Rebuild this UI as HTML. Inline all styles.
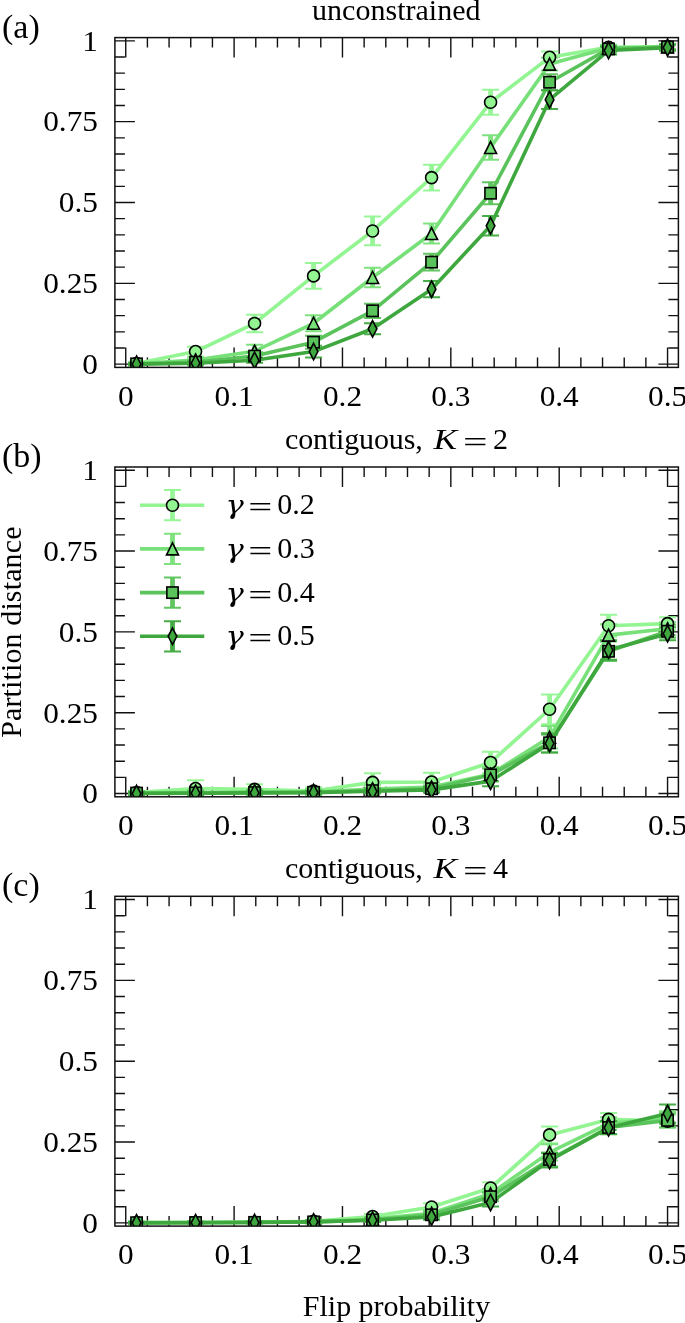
<!DOCTYPE html>
<html lang="en"><head><meta charset="utf-8"><title>Partition distance vs flip probability</title>
<style>
html,body{margin:0;padding:0;background:#fff;}
body{width:685px;height:1323px;overflow:hidden;position:relative;}
svg text{font-family:"Liberation Serif",serif;fill:#000;}
</style></head><body>
<svg width="685" height="1323" viewBox="0 0 685 1323" style="position:absolute;left:0;top:0;display:block">
<rect width="685" height="1323" fill="#fff"/>
<g id="panel0">
<path d="M125.74 367.40v-20M125.74 37.60v20M147.41 367.40v-10M147.41 37.60v10M169.08 367.40v-10M169.08 37.60v10M190.76 367.40v-10M190.76 37.60v10M212.43 367.40v-10M212.43 37.60v10M234.10 367.40v-20M234.10 37.60v20M255.78 367.40v-10M255.78 37.60v10M277.45 367.40v-10M277.45 37.60v10M299.12 367.40v-10M299.12 37.60v10M320.79 367.40v-10M320.79 37.60v10M342.47 367.40v-20M342.47 37.60v20M364.14 367.40v-10M364.14 37.60v10M385.81 367.40v-10M385.81 37.60v10M407.49 367.40v-10M407.49 37.60v10M429.16 367.40v-10M429.16 37.60v10M450.83 367.40v-20M450.83 37.60v20M472.51 367.40v-10M472.51 37.60v10M494.18 367.40v-10M494.18 37.60v10M515.85 367.40v-10M515.85 37.60v10M537.52 367.40v-10M537.52 37.60v10M559.20 367.40v-20M559.20 37.60v20M580.87 367.40v-10M580.87 37.60v10M602.54 367.40v-10M602.54 37.60v10M624.22 367.40v-10M624.22 37.60v10M645.89 367.40v-10M645.89 37.60v10M667.56 367.40v-20M667.56 37.60v20M114.90 364.17h20M678.40 364.17h-20M114.90 348.00h10M678.40 348.00h-10M114.90 331.83h10M678.40 331.83h-10M114.90 315.67h10M678.40 315.67h-10M114.90 299.50h10M678.40 299.50h-10M114.90 283.33h20M678.40 283.33h-20M114.90 267.17h10M678.40 267.17h-10M114.90 251.00h10M678.40 251.00h-10M114.90 234.83h10M678.40 234.83h-10M114.90 218.67h10M678.40 218.67h-10M114.90 202.50h20M678.40 202.50h-20M114.90 186.33h10M678.40 186.33h-10M114.90 170.17h10M678.40 170.17h-10M114.90 154.00h10M678.40 154.00h-10M114.90 137.83h10M678.40 137.83h-10M114.90 121.67h20M678.40 121.67h-20M114.90 105.50h10M678.40 105.50h-10M114.90 89.33h10M678.40 89.33h-10M114.90 73.17h10M678.40 73.17h-10M114.90 57.00h10M678.40 57.00h-10M114.90 40.83h20M678.40 40.83h-20" stroke="#111" stroke-width="1.4" fill="none"/>
<clipPath id="cp0"><rect x="114.9" y="37.6" width="563.5" height="329.8"/></clipPath>
<g clip-path="url(#cp0)">
<polyline points="136.57,363.52 195.57,351.56 254.57,323.43 313.57,275.90 372.57,230.95 431.57,177.60 490.57,102.27 549.57,57.32 608.56,47.30 667.56,46.65" fill="none" stroke="#92F592" stroke-width="3.6" stroke-linejoin="round"/>
<path d="M136.57 361.90V365.14" stroke="#92F592" stroke-width="4.8" fill="none" opacity="0.95"/><path d="M128.07 361.90h17.0M128.07 365.14h17.0" stroke="#92F592" stroke-width="2.0" fill="none" opacity="0.95"/>
<path d="M195.57 346.71V356.41" stroke="#92F592" stroke-width="4.8" fill="none" opacity="0.95"/><path d="M187.07 346.71h17.0M187.07 356.41h17.0" stroke="#92F592" stroke-width="2.0" fill="none" opacity="0.95"/>
<path d="M254.57 314.70V332.16" stroke="#92F592" stroke-width="4.8" fill="none" opacity="0.95"/><path d="M246.07 314.70h17.0M246.07 332.16h17.0" stroke="#92F592" stroke-width="2.0" fill="none" opacity="0.95"/>
<path d="M313.57 262.96V288.83" stroke="#92F592" stroke-width="4.8" fill="none" opacity="0.95"/><path d="M305.07 262.96h17.0M305.07 288.83h17.0" stroke="#92F592" stroke-width="2.0" fill="none" opacity="0.95"/>
<path d="M372.57 216.57V245.34" stroke="#92F592" stroke-width="4.8" fill="none" opacity="0.95"/><path d="M364.07 216.57h17.0M364.07 245.34h17.0" stroke="#92F592" stroke-width="2.0" fill="none" opacity="0.95"/>
<path d="M431.57 164.67V190.54" stroke="#92F592" stroke-width="4.8" fill="none" opacity="0.95"/><path d="M423.07 164.67h17.0M423.07 190.54h17.0" stroke="#92F592" stroke-width="2.0" fill="none" opacity="0.95"/>
<path d="M490.57 89.79V114.75" stroke="#92F592" stroke-width="4.8" fill="none" opacity="0.95"/><path d="M482.07 89.79h17.0M482.07 114.75h17.0" stroke="#92F592" stroke-width="2.0" fill="none" opacity="0.95"/>
<path d="M549.57 51.50V63.14" stroke="#92F592" stroke-width="4.8" fill="none" opacity="0.95"/><path d="M541.07 51.50h17.0M541.07 63.14h17.0" stroke="#92F592" stroke-width="2.0" fill="none" opacity="0.95"/>
<path d="M608.56 44.71V49.89" stroke="#92F592" stroke-width="4.8" fill="none" opacity="0.95"/><path d="M600.06 44.71h17.0M600.06 49.89h17.0" stroke="#92F592" stroke-width="2.0" fill="none" opacity="0.95"/>
<path d="M667.56 44.07V49.24" stroke="#92F592" stroke-width="4.8" fill="none" opacity="0.95"/><path d="M659.06 44.07h17.0M659.06 49.24h17.0" stroke="#92F592" stroke-width="2.0" fill="none" opacity="0.95"/>
<polyline points="136.57,363.84 195.57,359.96 254.57,351.23 313.57,323.26 372.57,277.51 431.57,233.54 490.57,147.53 549.57,64.11 608.56,47.95 667.56,46.98" fill="none" stroke="#78E078" stroke-width="3.6" stroke-linejoin="round"/>
<path d="M136.57 362.55V365.14" stroke="#78E078" stroke-width="4.8" fill="none" opacity="0.95"/><path d="M128.07 362.55h17.0M128.07 365.14h17.0" stroke="#78E078" stroke-width="2.0" fill="none" opacity="0.95"/>
<path d="M195.57 357.38V362.55" stroke="#78E078" stroke-width="4.8" fill="none" opacity="0.95"/><path d="M187.07 357.38h17.0M187.07 362.55h17.0" stroke="#78E078" stroke-width="2.0" fill="none" opacity="0.95"/>
<path d="M254.57 344.77V357.70" stroke="#78E078" stroke-width="4.8" fill="none" opacity="0.95"/><path d="M246.07 344.77h17.0M246.07 357.70h17.0" stroke="#78E078" stroke-width="2.0" fill="none" opacity="0.95"/>
<path d="M313.57 315.18V331.35" stroke="#78E078" stroke-width="4.8" fill="none" opacity="0.95"/><path d="M305.07 315.18h17.0M305.07 331.35h17.0" stroke="#78E078" stroke-width="2.0" fill="none" opacity="0.95"/>
<path d="M372.57 267.81V287.21" stroke="#78E078" stroke-width="4.8" fill="none" opacity="0.95"/><path d="M364.07 267.81h17.0M364.07 287.21h17.0" stroke="#78E078" stroke-width="2.0" fill="none" opacity="0.95"/>
<path d="M431.57 223.52V243.56" stroke="#78E078" stroke-width="4.8" fill="none" opacity="0.95"/><path d="M423.07 223.52h17.0M423.07 243.56h17.0" stroke="#78E078" stroke-width="2.0" fill="none" opacity="0.95"/>
<path d="M490.57 135.25V159.82" stroke="#78E078" stroke-width="4.8" fill="none" opacity="0.95"/><path d="M482.07 135.25h17.0M482.07 159.82h17.0" stroke="#78E078" stroke-width="2.0" fill="none" opacity="0.95"/>
<path d="M549.57 57.65V70.58" stroke="#78E078" stroke-width="4.8" fill="none" opacity="0.95"/><path d="M541.07 57.65h17.0M541.07 70.58h17.0" stroke="#78E078" stroke-width="2.0" fill="none" opacity="0.95"/>
<path d="M608.56 45.36V50.53" stroke="#78E078" stroke-width="4.8" fill="none" opacity="0.95"/><path d="M600.06 45.36h17.0M600.06 50.53h17.0" stroke="#78E078" stroke-width="2.0" fill="none" opacity="0.95"/>
<path d="M667.56 44.39V49.56" stroke="#78E078" stroke-width="4.8" fill="none" opacity="0.95"/><path d="M659.06 44.39h17.0M659.06 49.56h17.0" stroke="#78E078" stroke-width="2.0" fill="none" opacity="0.95"/>
<polyline points="136.57,363.84 195.57,362.23 254.57,356.08 313.57,342.18 372.57,310.82 431.57,262.12 490.57,193.25 549.57,82.22 608.56,48.92 667.56,46.98" fill="none" stroke="#5BC35B" stroke-width="3.6" stroke-linejoin="round"/>
<path d="M136.57 362.87V364.81" stroke="#5BC35B" stroke-width="4.8" fill="none" opacity="0.95"/><path d="M128.07 362.87h17.0M128.07 364.81h17.0" stroke="#5BC35B" stroke-width="2.0" fill="none" opacity="0.95"/>
<path d="M195.57 360.29V364.17" stroke="#5BC35B" stroke-width="4.8" fill="none" opacity="0.95"/><path d="M187.07 360.29h17.0M187.07 364.17h17.0" stroke="#5BC35B" stroke-width="2.0" fill="none" opacity="0.95"/>
<path d="M254.57 352.20V359.96" stroke="#5BC35B" stroke-width="4.8" fill="none" opacity="0.95"/><path d="M246.07 352.20h17.0M246.07 359.96h17.0" stroke="#5BC35B" stroke-width="2.0" fill="none" opacity="0.95"/>
<path d="M313.57 335.71V348.65" stroke="#5BC35B" stroke-width="4.8" fill="none" opacity="0.95"/><path d="M305.07 335.71h17.0M305.07 348.65h17.0" stroke="#5BC35B" stroke-width="2.0" fill="none" opacity="0.95"/>
<path d="M372.57 303.70V317.93" stroke="#5BC35B" stroke-width="4.8" fill="none" opacity="0.95"/><path d="M364.07 303.70h17.0M364.07 317.93h17.0" stroke="#5BC35B" stroke-width="2.0" fill="none" opacity="0.95"/>
<path d="M431.57 253.72V270.53" stroke="#5BC35B" stroke-width="4.8" fill="none" opacity="0.95"/><path d="M423.07 253.72h17.0M423.07 270.53h17.0" stroke="#5BC35B" stroke-width="2.0" fill="none" opacity="0.95"/>
<path d="M490.57 182.26V204.25" stroke="#5BC35B" stroke-width="4.8" fill="none" opacity="0.95"/><path d="M482.07 182.26h17.0M482.07 204.25h17.0" stroke="#5BC35B" stroke-width="2.0" fill="none" opacity="0.95"/>
<path d="M549.57 74.14V90.30" stroke="#5BC35B" stroke-width="4.8" fill="none" opacity="0.95"/><path d="M541.07 74.14h17.0M541.07 90.30h17.0" stroke="#5BC35B" stroke-width="2.0" fill="none" opacity="0.95"/>
<path d="M608.56 45.68V52.15" stroke="#5BC35B" stroke-width="4.8" fill="none" opacity="0.95"/><path d="M600.06 45.68h17.0M600.06 52.15h17.0" stroke="#5BC35B" stroke-width="2.0" fill="none" opacity="0.95"/>
<path d="M667.56 44.39V49.56" stroke="#5BC35B" stroke-width="4.8" fill="none" opacity="0.95"/><path d="M659.06 44.39h17.0M659.06 49.56h17.0" stroke="#5BC35B" stroke-width="2.0" fill="none" opacity="0.95"/>
<polyline points="136.57,364.17 195.57,363.20 254.57,360.29 313.57,351.56 372.57,328.79 431.57,289.15 490.57,225.78 549.57,99.68 608.56,50.53 667.56,47.62" fill="none" stroke="#3EA83E" stroke-width="3.6" stroke-linejoin="round"/>
<path d="M136.57 363.20V365.14" stroke="#3EA83E" stroke-width="4.8" fill="none" opacity="0.95"/><path d="M128.07 363.20h17.0M128.07 365.14h17.0" stroke="#3EA83E" stroke-width="2.0" fill="none" opacity="0.95"/>
<path d="M195.57 361.58V364.81" stroke="#3EA83E" stroke-width="4.8" fill="none" opacity="0.95"/><path d="M187.07 361.58h17.0M187.07 364.81h17.0" stroke="#3EA83E" stroke-width="2.0" fill="none" opacity="0.95"/>
<path d="M254.57 357.70V362.87" stroke="#3EA83E" stroke-width="4.8" fill="none" opacity="0.95"/><path d="M246.07 357.70h17.0M246.07 362.87h17.0" stroke="#3EA83E" stroke-width="2.0" fill="none" opacity="0.95"/>
<path d="M313.57 345.74V357.38" stroke="#3EA83E" stroke-width="4.8" fill="none" opacity="0.95"/><path d="M305.07 345.74h17.0M305.07 357.38h17.0" stroke="#3EA83E" stroke-width="2.0" fill="none" opacity="0.95"/>
<path d="M372.57 323.30V334.29" stroke="#3EA83E" stroke-width="4.8" fill="none" opacity="0.95"/><path d="M364.07 323.30h17.0M364.07 334.29h17.0" stroke="#3EA83E" stroke-width="2.0" fill="none" opacity="0.95"/>
<path d="M431.57 281.07V297.24" stroke="#3EA83E" stroke-width="4.8" fill="none" opacity="0.95"/><path d="M423.07 281.07h17.0M423.07 297.24h17.0" stroke="#3EA83E" stroke-width="2.0" fill="none" opacity="0.95"/>
<path d="M490.57 216.08V235.48" stroke="#3EA83E" stroke-width="4.8" fill="none" opacity="0.95"/><path d="M482.07 216.08h17.0M482.07 235.48h17.0" stroke="#3EA83E" stroke-width="2.0" fill="none" opacity="0.95"/>
<path d="M549.57 90.30V109.06" stroke="#3EA83E" stroke-width="4.8" fill="none" opacity="0.95"/><path d="M541.07 90.30h17.0M541.07 109.06h17.0" stroke="#3EA83E" stroke-width="2.0" fill="none" opacity="0.95"/>
<path d="M608.56 46.65V54.41" stroke="#3EA83E" stroke-width="4.8" fill="none" opacity="0.95"/><path d="M600.06 46.65h17.0M600.06 54.41h17.0" stroke="#3EA83E" stroke-width="2.0" fill="none" opacity="0.95"/>
<path d="M667.56 44.39V50.86" stroke="#3EA83E" stroke-width="4.8" fill="none" opacity="0.95"/><path d="M659.06 44.39h17.0M659.06 50.86h17.0" stroke="#3EA83E" stroke-width="2.0" fill="none" opacity="0.95"/>
<circle cx="136.57" cy="363.52" r="6.00" fill="#92F592" stroke="#000" stroke-width="1.6" stroke-linejoin="miter"/>
<circle cx="195.57" cy="351.56" r="6.00" fill="#92F592" stroke="#000" stroke-width="1.6" stroke-linejoin="miter"/>
<circle cx="254.57" cy="323.43" r="6.00" fill="#92F592" stroke="#000" stroke-width="1.6" stroke-linejoin="miter"/>
<circle cx="313.57" cy="275.90" r="6.00" fill="#92F592" stroke="#000" stroke-width="1.6" stroke-linejoin="miter"/>
<circle cx="372.57" cy="230.95" r="6.00" fill="#92F592" stroke="#000" stroke-width="1.6" stroke-linejoin="miter"/>
<circle cx="431.57" cy="177.60" r="6.00" fill="#92F592" stroke="#000" stroke-width="1.6" stroke-linejoin="miter"/>
<circle cx="490.57" cy="102.27" r="6.00" fill="#92F592" stroke="#000" stroke-width="1.6" stroke-linejoin="miter"/>
<circle cx="549.57" cy="57.32" r="6.00" fill="#92F592" stroke="#000" stroke-width="1.6" stroke-linejoin="miter"/>
<circle cx="608.56" cy="47.30" r="6.00" fill="#92F592" stroke="#000" stroke-width="1.6" stroke-linejoin="miter"/>
<circle cx="667.56" cy="46.65" r="6.00" fill="#92F592" stroke="#000" stroke-width="1.6" stroke-linejoin="miter"/>
<path d="M136.57 357.84L142.57 369.84L130.57 369.84Z" fill="#78E078" stroke="#000" stroke-width="1.6" stroke-linejoin="miter"/>
<path d="M195.57 353.96L201.57 365.96L189.57 365.96Z" fill="#78E078" stroke="#000" stroke-width="1.6" stroke-linejoin="miter"/>
<path d="M254.57 345.23L260.57 357.23L248.57 357.23Z" fill="#78E078" stroke="#000" stroke-width="1.6" stroke-linejoin="miter"/>
<path d="M313.57 317.26L319.57 329.26L307.57 329.26Z" fill="#78E078" stroke="#000" stroke-width="1.6" stroke-linejoin="miter"/>
<path d="M372.57 271.51L378.57 283.51L366.57 283.51Z" fill="#78E078" stroke="#000" stroke-width="1.6" stroke-linejoin="miter"/>
<path d="M431.57 227.54L437.57 239.54L425.57 239.54Z" fill="#78E078" stroke="#000" stroke-width="1.6" stroke-linejoin="miter"/>
<path d="M490.57 141.53L496.57 153.53L484.57 153.53Z" fill="#78E078" stroke="#000" stroke-width="1.6" stroke-linejoin="miter"/>
<path d="M549.57 58.11L555.57 70.11L543.57 70.11Z" fill="#78E078" stroke="#000" stroke-width="1.6" stroke-linejoin="miter"/>
<path d="M608.56 41.95L614.56 53.95L602.56 53.95Z" fill="#78E078" stroke="#000" stroke-width="1.6" stroke-linejoin="miter"/>
<path d="M667.56 40.98L673.56 52.98L661.56 52.98Z" fill="#78E078" stroke="#000" stroke-width="1.6" stroke-linejoin="miter"/>
<rect x="130.93" y="358.20" width="11.28" height="11.28" fill="#5BC35B" stroke="#000" stroke-width="1.6" stroke-linejoin="miter"/>
<rect x="189.93" y="356.59" width="11.28" height="11.28" fill="#5BC35B" stroke="#000" stroke-width="1.6" stroke-linejoin="miter"/>
<rect x="248.93" y="350.44" width="11.28" height="11.28" fill="#5BC35B" stroke="#000" stroke-width="1.6" stroke-linejoin="miter"/>
<rect x="307.93" y="336.54" width="11.28" height="11.28" fill="#5BC35B" stroke="#000" stroke-width="1.6" stroke-linejoin="miter"/>
<rect x="366.93" y="305.18" width="11.28" height="11.28" fill="#5BC35B" stroke="#000" stroke-width="1.6" stroke-linejoin="miter"/>
<rect x="425.93" y="256.48" width="11.28" height="11.28" fill="#5BC35B" stroke="#000" stroke-width="1.6" stroke-linejoin="miter"/>
<rect x="484.93" y="187.61" width="11.28" height="11.28" fill="#5BC35B" stroke="#000" stroke-width="1.6" stroke-linejoin="miter"/>
<rect x="543.93" y="76.58" width="11.28" height="11.28" fill="#5BC35B" stroke="#000" stroke-width="1.6" stroke-linejoin="miter"/>
<rect x="602.92" y="43.28" width="11.28" height="11.28" fill="#5BC35B" stroke="#000" stroke-width="1.6" stroke-linejoin="miter"/>
<rect x="661.92" y="41.34" width="11.28" height="11.28" fill="#5BC35B" stroke="#000" stroke-width="1.6" stroke-linejoin="miter"/>
<path d="M136.57 355.89L140.89 364.17L136.57 372.45L132.25 364.17Z" fill="#3EA83E" stroke="#000" stroke-width="1.6" stroke-linejoin="miter"/>
<path d="M195.57 354.92L199.89 363.20L195.57 371.48L191.25 363.20Z" fill="#3EA83E" stroke="#000" stroke-width="1.6" stroke-linejoin="miter"/>
<path d="M254.57 352.01L258.89 360.29L254.57 368.57L250.25 360.29Z" fill="#3EA83E" stroke="#000" stroke-width="1.6" stroke-linejoin="miter"/>
<path d="M313.57 343.28L317.89 351.56L313.57 359.84L309.25 351.56Z" fill="#3EA83E" stroke="#000" stroke-width="1.6" stroke-linejoin="miter"/>
<path d="M372.57 320.51L376.89 328.79L372.57 337.07L368.25 328.79Z" fill="#3EA83E" stroke="#000" stroke-width="1.6" stroke-linejoin="miter"/>
<path d="M431.57 280.87L435.89 289.15L431.57 297.43L427.25 289.15Z" fill="#3EA83E" stroke="#000" stroke-width="1.6" stroke-linejoin="miter"/>
<path d="M490.57 217.50L494.89 225.78L490.57 234.06L486.25 225.78Z" fill="#3EA83E" stroke="#000" stroke-width="1.6" stroke-linejoin="miter"/>
<path d="M549.57 91.40L553.89 99.68L549.57 107.96L545.25 99.68Z" fill="#3EA83E" stroke="#000" stroke-width="1.6" stroke-linejoin="miter"/>
<path d="M608.56 42.25L612.88 50.53L608.56 58.81L604.24 50.53Z" fill="#3EA83E" stroke="#000" stroke-width="1.6" stroke-linejoin="miter"/>
<path d="M667.56 39.34L671.88 47.62L667.56 55.90L663.24 47.62Z" fill="#3EA83E" stroke="#000" stroke-width="1.6" stroke-linejoin="miter"/>
</g>
<rect x="114.9" y="37.6" width="563.50" height="329.8" fill="none" stroke="#111" stroke-width="1.5"/>
<text transform="translate(125.74 405.60) scale(1.08 1)" font-size="29.0" text-anchor="middle">0</text>
<text transform="translate(234.10 405.60) scale(1.08 1)" font-size="29.0" text-anchor="middle">0.1</text>
<text transform="translate(342.47 405.60) scale(1.08 1)" font-size="29.0" text-anchor="middle">0.2</text>
<text transform="translate(450.83 405.60) scale(1.08 1)" font-size="29.0" text-anchor="middle">0.3</text>
<text transform="translate(559.20 405.60) scale(1.08 1)" font-size="29.0" text-anchor="middle">0.4</text>
<text transform="translate(667.56 405.60) scale(1.08 1)" font-size="29.0" text-anchor="middle">0.5</text>
<text transform="translate(98.00 373.97) scale(1.08 1)" font-size="29.0" text-anchor="end">0</text>
<text transform="translate(98.00 293.13) scale(1.08 1)" font-size="29.0" text-anchor="end">0.25</text>
<text transform="translate(98.00 212.30) scale(1.08 1)" font-size="29.0" text-anchor="end">0.5</text>
<text transform="translate(98.00 131.47) scale(1.08 1)" font-size="29.0" text-anchor="end">0.75</text>
<text transform="translate(98.00 50.63) scale(1.08 1)" font-size="29.0" text-anchor="end">1</text>
<text x="2.00" y="37.60" font-size="34">(a)</text>
<text x="312.00" y="20.40" font-size="30.0" textLength="168.6" lengthAdjust="spacing">unconstrained</text>
</g>
<g id="panel1">
<path d="M125.74 796.80v-20M125.74 467.00v20M147.41 796.80v-10M147.41 467.00v10M169.08 796.80v-10M169.08 467.00v10M190.76 796.80v-10M190.76 467.00v10M212.43 796.80v-10M212.43 467.00v10M234.10 796.80v-20M234.10 467.00v20M255.78 796.80v-10M255.78 467.00v10M277.45 796.80v-10M277.45 467.00v10M299.12 796.80v-10M299.12 467.00v10M320.79 796.80v-10M320.79 467.00v10M342.47 796.80v-20M342.47 467.00v20M364.14 796.80v-10M364.14 467.00v10M385.81 796.80v-10M385.81 467.00v10M407.49 796.80v-10M407.49 467.00v10M429.16 796.80v-10M429.16 467.00v10M450.83 796.80v-20M450.83 467.00v20M472.51 796.80v-10M472.51 467.00v10M494.18 796.80v-10M494.18 467.00v10M515.85 796.80v-10M515.85 467.00v10M537.52 796.80v-10M537.52 467.00v10M559.20 796.80v-20M559.20 467.00v20M580.87 796.80v-10M580.87 467.00v10M602.54 796.80v-10M602.54 467.00v10M624.22 796.80v-10M624.22 467.00v10M645.89 796.80v-10M645.89 467.00v10M667.56 796.80v-20M667.56 467.00v20M114.90 793.57h20M678.40 793.57h-20M114.90 777.40h10M678.40 777.40h-10M114.90 761.23h10M678.40 761.23h-10M114.90 745.07h10M678.40 745.07h-10M114.90 728.90h10M678.40 728.90h-10M114.90 712.73h20M678.40 712.73h-20M114.90 696.57h10M678.40 696.57h-10M114.90 680.40h10M678.40 680.40h-10M114.90 664.23h10M678.40 664.23h-10M114.90 648.07h10M678.40 648.07h-10M114.90 631.90h20M678.40 631.90h-20M114.90 615.73h10M678.40 615.73h-10M114.90 599.57h10M678.40 599.57h-10M114.90 583.40h10M678.40 583.40h-10M114.90 567.23h10M678.40 567.23h-10M114.90 551.07h20M678.40 551.07h-20M114.90 534.90h10M678.40 534.90h-10M114.90 518.73h10M678.40 518.73h-10M114.90 502.57h10M678.40 502.57h-10M114.90 486.40h10M678.40 486.40h-10M114.90 470.23h20M678.40 470.23h-20" stroke="#111" stroke-width="1.4" fill="none"/>
<clipPath id="cp1"><rect x="114.9" y="467.0" width="563.5" height="329.8"/></clipPath>
<g clip-path="url(#cp1)">
<polyline points="136.57,792.60 195.57,788.56 254.57,789.36 313.57,790.98 372.57,782.38 431.57,781.93 490.57,762.43 549.57,709.27 608.56,625.76 667.56,623.65" fill="none" stroke="#92F592" stroke-width="3.6" stroke-linejoin="round"/>
<path d="M136.57 790.66V794.54" stroke="#92F592" stroke-width="4.8" fill="none" opacity="0.95"/><path d="M128.07 790.66h17.0M128.07 794.54h17.0" stroke="#92F592" stroke-width="2.0" fill="none" opacity="0.95"/>
<path d="M195.57 780.15V796.96" stroke="#92F592" stroke-width="4.8" fill="none" opacity="0.95"/><path d="M187.07 780.15h17.0M187.07 796.96h17.0" stroke="#92F592" stroke-width="2.0" fill="none" opacity="0.95"/>
<path d="M254.57 784.19V794.54" stroke="#92F592" stroke-width="4.8" fill="none" opacity="0.95"/><path d="M246.07 784.19h17.0M246.07 794.54h17.0" stroke="#92F592" stroke-width="2.0" fill="none" opacity="0.95"/>
<path d="M313.57 787.75V794.21" stroke="#92F592" stroke-width="4.8" fill="none" opacity="0.95"/><path d="M305.07 787.75h17.0M305.07 794.21h17.0" stroke="#92F592" stroke-width="2.0" fill="none" opacity="0.95"/>
<path d="M372.57 773.33V791.43" stroke="#92F592" stroke-width="4.8" fill="none" opacity="0.95"/><path d="M364.07 773.33h17.0M364.07 791.43h17.0" stroke="#92F592" stroke-width="2.0" fill="none" opacity="0.95"/>
<path d="M431.57 772.87V790.98" stroke="#92F592" stroke-width="4.8" fill="none" opacity="0.95"/><path d="M423.07 772.87h17.0M423.07 790.98h17.0" stroke="#92F592" stroke-width="2.0" fill="none" opacity="0.95"/>
<path d="M490.57 751.76V773.10" stroke="#92F592" stroke-width="4.8" fill="none" opacity="0.95"/><path d="M482.07 751.76h17.0M482.07 773.10h17.0" stroke="#92F592" stroke-width="2.0" fill="none" opacity="0.95"/>
<path d="M549.57 694.40V724.15" stroke="#92F592" stroke-width="4.8" fill="none" opacity="0.95"/><path d="M541.07 694.40h17.0M541.07 724.15h17.0" stroke="#92F592" stroke-width="2.0" fill="none" opacity="0.95"/>
<path d="M608.56 614.76V636.75" stroke="#92F592" stroke-width="4.8" fill="none" opacity="0.95"/><path d="M600.06 614.76h17.0M600.06 636.75h17.0" stroke="#92F592" stroke-width="2.0" fill="none" opacity="0.95"/>
<path d="M667.56 617.19V630.12" stroke="#92F592" stroke-width="4.8" fill="none" opacity="0.95"/><path d="M659.06 617.19h17.0M659.06 630.12h17.0" stroke="#92F592" stroke-width="2.0" fill="none" opacity="0.95"/>
<polyline points="136.57,792.92 195.57,792.60 254.57,792.27 313.57,791.95 372.57,789.04 431.57,787.10 490.57,774.17 549.57,737.31 608.56,635.13 667.56,628.67" fill="none" stroke="#78E078" stroke-width="3.6" stroke-linejoin="round"/>
<path d="M136.57 791.30V794.54" stroke="#78E078" stroke-width="4.8" fill="none" opacity="0.95"/><path d="M128.07 791.30h17.0M128.07 794.54h17.0" stroke="#78E078" stroke-width="2.0" fill="none" opacity="0.95"/>
<path d="M195.57 790.01V795.18" stroke="#78E078" stroke-width="4.8" fill="none" opacity="0.95"/><path d="M187.07 790.01h17.0M187.07 795.18h17.0" stroke="#78E078" stroke-width="2.0" fill="none" opacity="0.95"/>
<path d="M254.57 789.69V794.86" stroke="#78E078" stroke-width="4.8" fill="none" opacity="0.95"/><path d="M246.07 789.69h17.0M246.07 794.86h17.0" stroke="#78E078" stroke-width="2.0" fill="none" opacity="0.95"/>
<path d="M313.57 789.36V794.54" stroke="#78E078" stroke-width="4.8" fill="none" opacity="0.95"/><path d="M305.07 789.36h17.0M305.07 794.54h17.0" stroke="#78E078" stroke-width="2.0" fill="none" opacity="0.95"/>
<path d="M372.57 785.16V792.92" stroke="#78E078" stroke-width="4.8" fill="none" opacity="0.95"/><path d="M364.07 785.16h17.0M364.07 792.92h17.0" stroke="#78E078" stroke-width="2.0" fill="none" opacity="0.95"/>
<path d="M431.57 782.57V791.63" stroke="#78E078" stroke-width="4.8" fill="none" opacity="0.95"/><path d="M423.07 782.57h17.0M423.07 791.63h17.0" stroke="#78E078" stroke-width="2.0" fill="none" opacity="0.95"/>
<path d="M490.57 767.05V781.28" stroke="#78E078" stroke-width="4.8" fill="none" opacity="0.95"/><path d="M482.07 767.05h17.0M482.07 781.28h17.0" stroke="#78E078" stroke-width="2.0" fill="none" opacity="0.95"/>
<path d="M549.57 725.99V748.62" stroke="#78E078" stroke-width="4.8" fill="none" opacity="0.95"/><path d="M541.07 725.99h17.0M541.07 748.62h17.0" stroke="#78E078" stroke-width="2.0" fill="none" opacity="0.95"/>
<path d="M608.56 624.14V646.13" stroke="#78E078" stroke-width="4.8" fill="none" opacity="0.95"/><path d="M600.06 624.14h17.0M600.06 646.13h17.0" stroke="#78E078" stroke-width="2.0" fill="none" opacity="0.95"/>
<path d="M667.56 622.20V635.13" stroke="#78E078" stroke-width="4.8" fill="none" opacity="0.95"/><path d="M659.06 622.20h17.0M659.06 635.13h17.0" stroke="#78E078" stroke-width="2.0" fill="none" opacity="0.95"/>
<polyline points="136.57,793.08 195.57,792.92 254.57,792.60 313.57,792.27 372.57,790.66 431.57,788.72 490.57,774.91 549.57,742.80 608.56,651.30 667.56,631.25" fill="none" stroke="#5BC35B" stroke-width="3.6" stroke-linejoin="round"/>
<path d="M136.57 791.47V794.70" stroke="#5BC35B" stroke-width="4.8" fill="none" opacity="0.95"/><path d="M128.07 791.47h17.0M128.07 794.70h17.0" stroke="#5BC35B" stroke-width="2.0" fill="none" opacity="0.95"/>
<path d="M195.57 790.98V794.86" stroke="#5BC35B" stroke-width="4.8" fill="none" opacity="0.95"/><path d="M187.07 790.98h17.0M187.07 794.86h17.0" stroke="#5BC35B" stroke-width="2.0" fill="none" opacity="0.95"/>
<path d="M254.57 790.66V794.54" stroke="#5BC35B" stroke-width="4.8" fill="none" opacity="0.95"/><path d="M246.07 790.66h17.0M246.07 794.54h17.0" stroke="#5BC35B" stroke-width="2.0" fill="none" opacity="0.95"/>
<path d="M313.57 790.33V794.21" stroke="#5BC35B" stroke-width="4.8" fill="none" opacity="0.95"/><path d="M305.07 790.33h17.0M305.07 794.21h17.0" stroke="#5BC35B" stroke-width="2.0" fill="none" opacity="0.95"/>
<path d="M372.57 788.07V793.24" stroke="#5BC35B" stroke-width="4.8" fill="none" opacity="0.95"/><path d="M364.07 788.07h17.0M364.07 793.24h17.0" stroke="#5BC35B" stroke-width="2.0" fill="none" opacity="0.95"/>
<path d="M431.57 785.48V791.95" stroke="#5BC35B" stroke-width="4.8" fill="none" opacity="0.95"/><path d="M423.07 785.48h17.0M423.07 791.95h17.0" stroke="#5BC35B" stroke-width="2.0" fill="none" opacity="0.95"/>
<path d="M490.57 768.44V781.38" stroke="#5BC35B" stroke-width="4.8" fill="none" opacity="0.95"/><path d="M482.07 768.44h17.0M482.07 781.38h17.0" stroke="#5BC35B" stroke-width="2.0" fill="none" opacity="0.95"/>
<path d="M549.57 733.10V752.50" stroke="#5BC35B" stroke-width="4.8" fill="none" opacity="0.95"/><path d="M541.07 733.10h17.0M541.07 752.50h17.0" stroke="#5BC35B" stroke-width="2.0" fill="none" opacity="0.95"/>
<path d="M608.56 641.60V661.00" stroke="#5BC35B" stroke-width="4.8" fill="none" opacity="0.95"/><path d="M600.06 641.60h17.0M600.06 661.00h17.0" stroke="#5BC35B" stroke-width="2.0" fill="none" opacity="0.95"/>
<path d="M667.56 624.79V637.72" stroke="#5BC35B" stroke-width="4.8" fill="none" opacity="0.95"/><path d="M659.06 624.79h17.0M659.06 637.72h17.0" stroke="#5BC35B" stroke-width="2.0" fill="none" opacity="0.95"/>
<polyline points="136.57,793.57 195.57,793.24 254.57,792.92 313.57,792.60 372.57,791.30 431.57,789.85 490.57,781.15 549.57,743.45 608.56,650.01 667.56,633.68" fill="none" stroke="#3EA83E" stroke-width="3.6" stroke-linejoin="round"/>
<path d="M136.57 791.95V795.18" stroke="#3EA83E" stroke-width="4.8" fill="none" opacity="0.95"/><path d="M128.07 791.95h17.0M128.07 795.18h17.0" stroke="#3EA83E" stroke-width="2.0" fill="none" opacity="0.95"/>
<path d="M195.57 791.63V794.86" stroke="#3EA83E" stroke-width="4.8" fill="none" opacity="0.95"/><path d="M187.07 791.63h17.0M187.07 794.86h17.0" stroke="#3EA83E" stroke-width="2.0" fill="none" opacity="0.95"/>
<path d="M254.57 791.30V794.54" stroke="#3EA83E" stroke-width="4.8" fill="none" opacity="0.95"/><path d="M246.07 791.30h17.0M246.07 794.54h17.0" stroke="#3EA83E" stroke-width="2.0" fill="none" opacity="0.95"/>
<path d="M313.57 790.98V794.21" stroke="#3EA83E" stroke-width="4.8" fill="none" opacity="0.95"/><path d="M305.07 790.98h17.0M305.07 794.21h17.0" stroke="#3EA83E" stroke-width="2.0" fill="none" opacity="0.95"/>
<path d="M372.57 789.36V793.24" stroke="#3EA83E" stroke-width="4.8" fill="none" opacity="0.95"/><path d="M364.07 789.36h17.0M364.07 793.24h17.0" stroke="#3EA83E" stroke-width="2.0" fill="none" opacity="0.95"/>
<path d="M431.57 787.26V792.44" stroke="#3EA83E" stroke-width="4.8" fill="none" opacity="0.95"/><path d="M423.07 787.26h17.0M423.07 792.44h17.0" stroke="#3EA83E" stroke-width="2.0" fill="none" opacity="0.95"/>
<path d="M490.57 775.98V786.32" stroke="#3EA83E" stroke-width="4.8" fill="none" opacity="0.95"/><path d="M482.07 775.98h17.0M482.07 786.32h17.0" stroke="#3EA83E" stroke-width="2.0" fill="none" opacity="0.95"/>
<path d="M549.57 734.40V752.50" stroke="#3EA83E" stroke-width="4.8" fill="none" opacity="0.95"/><path d="M541.07 734.40h17.0M541.07 752.50h17.0" stroke="#3EA83E" stroke-width="2.0" fill="none" opacity="0.95"/>
<path d="M608.56 640.31V659.71" stroke="#3EA83E" stroke-width="4.8" fill="none" opacity="0.95"/><path d="M600.06 640.31h17.0M600.06 659.71h17.0" stroke="#3EA83E" stroke-width="2.0" fill="none" opacity="0.95"/>
<path d="M667.56 627.21V640.14" stroke="#3EA83E" stroke-width="4.8" fill="none" opacity="0.95"/><path d="M659.06 627.21h17.0M659.06 640.14h17.0" stroke="#3EA83E" stroke-width="2.0" fill="none" opacity="0.95"/>
<circle cx="136.57" cy="792.60" r="6.00" fill="#92F592" stroke="#000" stroke-width="1.6" stroke-linejoin="miter"/>
<circle cx="195.57" cy="788.56" r="6.00" fill="#92F592" stroke="#000" stroke-width="1.6" stroke-linejoin="miter"/>
<circle cx="254.57" cy="789.36" r="6.00" fill="#92F592" stroke="#000" stroke-width="1.6" stroke-linejoin="miter"/>
<circle cx="313.57" cy="790.98" r="6.00" fill="#92F592" stroke="#000" stroke-width="1.6" stroke-linejoin="miter"/>
<circle cx="372.57" cy="782.38" r="6.00" fill="#92F592" stroke="#000" stroke-width="1.6" stroke-linejoin="miter"/>
<circle cx="431.57" cy="781.93" r="6.00" fill="#92F592" stroke="#000" stroke-width="1.6" stroke-linejoin="miter"/>
<circle cx="490.57" cy="762.43" r="6.00" fill="#92F592" stroke="#000" stroke-width="1.6" stroke-linejoin="miter"/>
<circle cx="549.57" cy="709.27" r="6.00" fill="#92F592" stroke="#000" stroke-width="1.6" stroke-linejoin="miter"/>
<circle cx="608.56" cy="625.76" r="6.00" fill="#92F592" stroke="#000" stroke-width="1.6" stroke-linejoin="miter"/>
<circle cx="667.56" cy="623.65" r="6.00" fill="#92F592" stroke="#000" stroke-width="1.6" stroke-linejoin="miter"/>
<path d="M136.57 786.92L142.57 798.92L130.57 798.92Z" fill="#78E078" stroke="#000" stroke-width="1.6" stroke-linejoin="miter"/>
<path d="M195.57 786.60L201.57 798.60L189.57 798.60Z" fill="#78E078" stroke="#000" stroke-width="1.6" stroke-linejoin="miter"/>
<path d="M254.57 786.27L260.57 798.27L248.57 798.27Z" fill="#78E078" stroke="#000" stroke-width="1.6" stroke-linejoin="miter"/>
<path d="M313.57 785.95L319.57 797.95L307.57 797.95Z" fill="#78E078" stroke="#000" stroke-width="1.6" stroke-linejoin="miter"/>
<path d="M372.57 783.04L378.57 795.04L366.57 795.04Z" fill="#78E078" stroke="#000" stroke-width="1.6" stroke-linejoin="miter"/>
<path d="M431.57 781.10L437.57 793.10L425.57 793.10Z" fill="#78E078" stroke="#000" stroke-width="1.6" stroke-linejoin="miter"/>
<path d="M490.57 768.17L496.57 780.17L484.57 780.17Z" fill="#78E078" stroke="#000" stroke-width="1.6" stroke-linejoin="miter"/>
<path d="M549.57 731.31L555.57 743.31L543.57 743.31Z" fill="#78E078" stroke="#000" stroke-width="1.6" stroke-linejoin="miter"/>
<path d="M608.56 629.13L614.56 641.13L602.56 641.13Z" fill="#78E078" stroke="#000" stroke-width="1.6" stroke-linejoin="miter"/>
<path d="M667.56 622.67L673.56 634.67L661.56 634.67Z" fill="#78E078" stroke="#000" stroke-width="1.6" stroke-linejoin="miter"/>
<rect x="130.93" y="787.44" width="11.28" height="11.28" fill="#5BC35B" stroke="#000" stroke-width="1.6" stroke-linejoin="miter"/>
<rect x="189.93" y="787.28" width="11.28" height="11.28" fill="#5BC35B" stroke="#000" stroke-width="1.6" stroke-linejoin="miter"/>
<rect x="248.93" y="786.96" width="11.28" height="11.28" fill="#5BC35B" stroke="#000" stroke-width="1.6" stroke-linejoin="miter"/>
<rect x="307.93" y="786.63" width="11.28" height="11.28" fill="#5BC35B" stroke="#000" stroke-width="1.6" stroke-linejoin="miter"/>
<rect x="366.93" y="785.02" width="11.28" height="11.28" fill="#5BC35B" stroke="#000" stroke-width="1.6" stroke-linejoin="miter"/>
<rect x="425.93" y="783.08" width="11.28" height="11.28" fill="#5BC35B" stroke="#000" stroke-width="1.6" stroke-linejoin="miter"/>
<rect x="484.93" y="769.27" width="11.28" height="11.28" fill="#5BC35B" stroke="#000" stroke-width="1.6" stroke-linejoin="miter"/>
<rect x="543.93" y="737.16" width="11.28" height="11.28" fill="#5BC35B" stroke="#000" stroke-width="1.6" stroke-linejoin="miter"/>
<rect x="602.92" y="645.66" width="11.28" height="11.28" fill="#5BC35B" stroke="#000" stroke-width="1.6" stroke-linejoin="miter"/>
<rect x="661.92" y="625.61" width="11.28" height="11.28" fill="#5BC35B" stroke="#000" stroke-width="1.6" stroke-linejoin="miter"/>
<path d="M136.57 785.29L140.89 793.57L136.57 801.85L132.25 793.57Z" fill="#3EA83E" stroke="#000" stroke-width="1.6" stroke-linejoin="miter"/>
<path d="M195.57 784.96L199.89 793.24L195.57 801.52L191.25 793.24Z" fill="#3EA83E" stroke="#000" stroke-width="1.6" stroke-linejoin="miter"/>
<path d="M254.57 784.64L258.89 792.92L254.57 801.20L250.25 792.92Z" fill="#3EA83E" stroke="#000" stroke-width="1.6" stroke-linejoin="miter"/>
<path d="M313.57 784.32L317.89 792.60L313.57 800.88L309.25 792.60Z" fill="#3EA83E" stroke="#000" stroke-width="1.6" stroke-linejoin="miter"/>
<path d="M372.57 783.02L376.89 791.30L372.57 799.58L368.25 791.30Z" fill="#3EA83E" stroke="#000" stroke-width="1.6" stroke-linejoin="miter"/>
<path d="M431.57 781.57L435.89 789.85L431.57 798.13L427.25 789.85Z" fill="#3EA83E" stroke="#000" stroke-width="1.6" stroke-linejoin="miter"/>
<path d="M490.57 772.87L494.89 781.15L490.57 789.43L486.25 781.15Z" fill="#3EA83E" stroke="#000" stroke-width="1.6" stroke-linejoin="miter"/>
<path d="M549.57 735.17L553.89 743.45L549.57 751.73L545.25 743.45Z" fill="#3EA83E" stroke="#000" stroke-width="1.6" stroke-linejoin="miter"/>
<path d="M608.56 641.73L612.88 650.01L608.56 658.29L604.24 650.01Z" fill="#3EA83E" stroke="#000" stroke-width="1.6" stroke-linejoin="miter"/>
<path d="M667.56 625.40L671.88 633.68L667.56 641.96L663.24 633.68Z" fill="#3EA83E" stroke="#000" stroke-width="1.6" stroke-linejoin="miter"/>
</g>
<rect x="114.9" y="467.0" width="563.50" height="329.8" fill="none" stroke="#111" stroke-width="1.5"/>
<text transform="translate(125.74 835.00) scale(1.08 1)" font-size="29.0" text-anchor="middle">0</text>
<text transform="translate(234.10 835.00) scale(1.08 1)" font-size="29.0" text-anchor="middle">0.1</text>
<text transform="translate(342.47 835.00) scale(1.08 1)" font-size="29.0" text-anchor="middle">0.2</text>
<text transform="translate(450.83 835.00) scale(1.08 1)" font-size="29.0" text-anchor="middle">0.3</text>
<text transform="translate(559.20 835.00) scale(1.08 1)" font-size="29.0" text-anchor="middle">0.4</text>
<text transform="translate(667.56 835.00) scale(1.08 1)" font-size="29.0" text-anchor="middle">0.5</text>
<text transform="translate(98.00 803.37) scale(1.08 1)" font-size="29.0" text-anchor="end">0</text>
<text transform="translate(98.00 722.53) scale(1.08 1)" font-size="29.0" text-anchor="end">0.25</text>
<text transform="translate(98.00 641.70) scale(1.08 1)" font-size="29.0" text-anchor="end">0.5</text>
<text transform="translate(98.00 560.87) scale(1.08 1)" font-size="29.0" text-anchor="end">0.75</text>
<text transform="translate(98.00 480.03) scale(1.08 1)" font-size="29.0" text-anchor="end">1</text>
<text x="2.00" y="467.00" font-size="34">(b)</text>
<text x="285.00" y="448.50" font-size="30.0" textLength="137.7" lengthAdjust="spacing">contiguous,</text>
<text transform="translate(433.50 448.50) scale(1.18 1)" font-size="30.0" font-style="italic">K</text>
<text transform="translate(463.00 451.50) scale(1.45 1)" font-size="30.0">=</text>
<text x="493.00" y="448.50" font-size="30.0">2</text>
</g>
<g id="panel2">
<path d="M125.74 1226.10v-20M125.74 896.30v20M147.41 1226.10v-10M147.41 896.30v10M169.08 1226.10v-10M169.08 896.30v10M190.76 1226.10v-10M190.76 896.30v10M212.43 1226.10v-10M212.43 896.30v10M234.10 1226.10v-20M234.10 896.30v20M255.78 1226.10v-10M255.78 896.30v10M277.45 1226.10v-10M277.45 896.30v10M299.12 1226.10v-10M299.12 896.30v10M320.79 1226.10v-10M320.79 896.30v10M342.47 1226.10v-20M342.47 896.30v20M364.14 1226.10v-10M364.14 896.30v10M385.81 1226.10v-10M385.81 896.30v10M407.49 1226.10v-10M407.49 896.30v10M429.16 1226.10v-10M429.16 896.30v10M450.83 1226.10v-20M450.83 896.30v20M472.51 1226.10v-10M472.51 896.30v10M494.18 1226.10v-10M494.18 896.30v10M515.85 1226.10v-10M515.85 896.30v10M537.52 1226.10v-10M537.52 896.30v10M559.20 1226.10v-20M559.20 896.30v20M580.87 1226.10v-10M580.87 896.30v10M602.54 1226.10v-10M602.54 896.30v10M624.22 1226.10v-10M624.22 896.30v10M645.89 1226.10v-10M645.89 896.30v10M667.56 1226.10v-20M667.56 896.30v20M114.90 1222.87h20M678.40 1222.87h-20M114.90 1206.70h10M678.40 1206.70h-10M114.90 1190.53h10M678.40 1190.53h-10M114.90 1174.37h10M678.40 1174.37h-10M114.90 1158.20h10M678.40 1158.20h-10M114.90 1142.03h20M678.40 1142.03h-20M114.90 1125.87h10M678.40 1125.87h-10M114.90 1109.70h10M678.40 1109.70h-10M114.90 1093.53h10M678.40 1093.53h-10M114.90 1077.37h10M678.40 1077.37h-10M114.90 1061.20h20M678.40 1061.20h-20M114.90 1045.03h10M678.40 1045.03h-10M114.90 1028.87h10M678.40 1028.87h-10M114.90 1012.70h10M678.40 1012.70h-10M114.90 996.53h10M678.40 996.53h-10M114.90 980.37h20M678.40 980.37h-20M114.90 964.20h10M678.40 964.20h-10M114.90 948.03h10M678.40 948.03h-10M114.90 931.87h10M678.40 931.87h-10M114.90 915.70h10M678.40 915.70h-10M114.90 899.53h20M678.40 899.53h-20" stroke="#111" stroke-width="1.4" fill="none"/>
<clipPath id="cp2"><rect x="114.9" y="896.3" width="563.5" height="329.8"/></clipPath>
<g clip-path="url(#cp2)">
<polyline points="136.57,1222.54 195.57,1222.54 254.57,1222.22 313.57,1221.25 372.57,1216.56 431.57,1207.02 490.57,1187.95 549.57,1134.92 608.56,1119.40 667.56,1121.15" fill="none" stroke="#92F592" stroke-width="3.6" stroke-linejoin="round"/>
<path d="M136.57 1221.57V1223.51" stroke="#92F592" stroke-width="4.8" fill="none" opacity="0.95"/><path d="M128.07 1221.57h17.0M128.07 1223.51h17.0" stroke="#92F592" stroke-width="2.0" fill="none" opacity="0.95"/>
<path d="M195.57 1221.57V1223.51" stroke="#92F592" stroke-width="4.8" fill="none" opacity="0.95"/><path d="M187.07 1221.57h17.0M187.07 1223.51h17.0" stroke="#92F592" stroke-width="2.0" fill="none" opacity="0.95"/>
<path d="M254.57 1221.25V1223.19" stroke="#92F592" stroke-width="4.8" fill="none" opacity="0.95"/><path d="M246.07 1221.25h17.0M246.07 1223.19h17.0" stroke="#92F592" stroke-width="2.0" fill="none" opacity="0.95"/>
<path d="M313.57 1219.96V1222.54" stroke="#92F592" stroke-width="4.8" fill="none" opacity="0.95"/><path d="M305.07 1219.96h17.0M305.07 1222.54h17.0" stroke="#92F592" stroke-width="2.0" fill="none" opacity="0.95"/>
<path d="M372.57 1213.97V1219.15" stroke="#92F592" stroke-width="4.8" fill="none" opacity="0.95"/><path d="M364.07 1213.97h17.0M364.07 1219.15h17.0" stroke="#92F592" stroke-width="2.0" fill="none" opacity="0.95"/>
<path d="M431.57 1203.14V1210.90" stroke="#92F592" stroke-width="4.8" fill="none" opacity="0.95"/><path d="M423.07 1203.14h17.0M423.07 1210.90h17.0" stroke="#92F592" stroke-width="2.0" fill="none" opacity="0.95"/>
<path d="M490.57 1182.13V1193.77" stroke="#92F592" stroke-width="4.8" fill="none" opacity="0.95"/><path d="M482.07 1182.13h17.0M482.07 1193.77h17.0" stroke="#92F592" stroke-width="2.0" fill="none" opacity="0.95"/>
<path d="M549.57 1126.51V1143.33" stroke="#92F592" stroke-width="4.8" fill="none" opacity="0.95"/><path d="M541.07 1126.51h17.0M541.07 1143.33h17.0" stroke="#92F592" stroke-width="2.0" fill="none" opacity="0.95"/>
<path d="M608.56 1112.93V1125.87" stroke="#92F592" stroke-width="4.8" fill="none" opacity="0.95"/><path d="M600.06 1112.93h17.0M600.06 1125.87h17.0" stroke="#92F592" stroke-width="2.0" fill="none" opacity="0.95"/>
<path d="M667.56 1114.68V1127.61" stroke="#92F592" stroke-width="4.8" fill="none" opacity="0.95"/><path d="M659.06 1114.68h17.0M659.06 1127.61h17.0" stroke="#92F592" stroke-width="2.0" fill="none" opacity="0.95"/>
<polyline points="136.57,1222.54 195.57,1222.54 254.57,1222.22 313.57,1221.57 372.57,1218.99 431.57,1213.17 490.57,1193.77 549.57,1152.38 608.56,1123.60 667.56,1117.78" fill="none" stroke="#78E078" stroke-width="3.6" stroke-linejoin="round"/>
<path d="M136.57 1221.57V1223.51" stroke="#78E078" stroke-width="4.8" fill="none" opacity="0.95"/><path d="M128.07 1221.57h17.0M128.07 1223.51h17.0" stroke="#78E078" stroke-width="2.0" fill="none" opacity="0.95"/>
<path d="M195.57 1221.57V1223.51" stroke="#78E078" stroke-width="4.8" fill="none" opacity="0.95"/><path d="M187.07 1221.57h17.0M187.07 1223.51h17.0" stroke="#78E078" stroke-width="2.0" fill="none" opacity="0.95"/>
<path d="M254.57 1221.25V1223.19" stroke="#78E078" stroke-width="4.8" fill="none" opacity="0.95"/><path d="M246.07 1221.25h17.0M246.07 1223.19h17.0" stroke="#78E078" stroke-width="2.0" fill="none" opacity="0.95"/>
<path d="M313.57 1220.28V1222.87" stroke="#78E078" stroke-width="4.8" fill="none" opacity="0.95"/><path d="M305.07 1220.28h17.0M305.07 1222.87h17.0" stroke="#78E078" stroke-width="2.0" fill="none" opacity="0.95"/>
<path d="M372.57 1217.05V1220.93" stroke="#78E078" stroke-width="4.8" fill="none" opacity="0.95"/><path d="M364.07 1217.05h17.0M364.07 1220.93h17.0" stroke="#78E078" stroke-width="2.0" fill="none" opacity="0.95"/>
<path d="M431.57 1209.93V1216.40" stroke="#78E078" stroke-width="4.8" fill="none" opacity="0.95"/><path d="M423.07 1209.93h17.0M423.07 1216.40h17.0" stroke="#78E078" stroke-width="2.0" fill="none" opacity="0.95"/>
<path d="M490.57 1188.92V1198.62" stroke="#78E078" stroke-width="4.8" fill="none" opacity="0.95"/><path d="M482.07 1188.92h17.0M482.07 1198.62h17.0" stroke="#78E078" stroke-width="2.0" fill="none" opacity="0.95"/>
<path d="M549.57 1144.30V1160.46" stroke="#78E078" stroke-width="4.8" fill="none" opacity="0.95"/><path d="M541.07 1144.30h17.0M541.07 1160.46h17.0" stroke="#78E078" stroke-width="2.0" fill="none" opacity="0.95"/>
<path d="M608.56 1117.14V1130.07" stroke="#78E078" stroke-width="4.8" fill="none" opacity="0.95"/><path d="M600.06 1117.14h17.0M600.06 1130.07h17.0" stroke="#78E078" stroke-width="2.0" fill="none" opacity="0.95"/>
<path d="M667.56 1111.32V1124.25" stroke="#78E078" stroke-width="4.8" fill="none" opacity="0.95"/><path d="M659.06 1111.32h17.0M659.06 1124.25h17.0" stroke="#78E078" stroke-width="2.0" fill="none" opacity="0.95"/>
<polyline points="136.57,1222.70 195.57,1222.54 254.57,1222.38 313.57,1221.90 372.57,1219.96 431.57,1214.78 490.57,1196.68 549.57,1159.49 608.56,1127.48 667.56,1120.37" fill="none" stroke="#5BC35B" stroke-width="3.6" stroke-linejoin="round"/>
<path d="M136.57 1221.73V1223.67" stroke="#5BC35B" stroke-width="4.8" fill="none" opacity="0.95"/><path d="M128.07 1221.73h17.0M128.07 1223.67h17.0" stroke="#5BC35B" stroke-width="2.0" fill="none" opacity="0.95"/>
<path d="M195.57 1221.57V1223.51" stroke="#5BC35B" stroke-width="4.8" fill="none" opacity="0.95"/><path d="M187.07 1221.57h17.0M187.07 1223.51h17.0" stroke="#5BC35B" stroke-width="2.0" fill="none" opacity="0.95"/>
<path d="M254.57 1221.41V1223.35" stroke="#5BC35B" stroke-width="4.8" fill="none" opacity="0.95"/><path d="M246.07 1221.41h17.0M246.07 1223.35h17.0" stroke="#5BC35B" stroke-width="2.0" fill="none" opacity="0.95"/>
<path d="M313.57 1220.60V1223.19" stroke="#5BC35B" stroke-width="4.8" fill="none" opacity="0.95"/><path d="M305.07 1220.60h17.0M305.07 1223.19h17.0" stroke="#5BC35B" stroke-width="2.0" fill="none" opacity="0.95"/>
<path d="M372.57 1218.34V1221.57" stroke="#5BC35B" stroke-width="4.8" fill="none" opacity="0.95"/><path d="M364.07 1218.34h17.0M364.07 1221.57h17.0" stroke="#5BC35B" stroke-width="2.0" fill="none" opacity="0.95"/>
<path d="M431.57 1211.87V1217.69" stroke="#5BC35B" stroke-width="4.8" fill="none" opacity="0.95"/><path d="M423.07 1211.87h17.0M423.07 1217.69h17.0" stroke="#5BC35B" stroke-width="2.0" fill="none" opacity="0.95"/>
<path d="M490.57 1192.15V1201.20" stroke="#5BC35B" stroke-width="4.8" fill="none" opacity="0.95"/><path d="M482.07 1192.15h17.0M482.07 1201.20h17.0" stroke="#5BC35B" stroke-width="2.0" fill="none" opacity="0.95"/>
<path d="M549.57 1152.38V1166.61" stroke="#5BC35B" stroke-width="4.8" fill="none" opacity="0.95"/><path d="M541.07 1152.38h17.0M541.07 1166.61h17.0" stroke="#5BC35B" stroke-width="2.0" fill="none" opacity="0.95"/>
<path d="M608.56 1121.02V1133.95" stroke="#5BC35B" stroke-width="4.8" fill="none" opacity="0.95"/><path d="M600.06 1121.02h17.0M600.06 1133.95h17.0" stroke="#5BC35B" stroke-width="2.0" fill="none" opacity="0.95"/>
<path d="M667.56 1113.26V1127.48" stroke="#5BC35B" stroke-width="4.8" fill="none" opacity="0.95"/><path d="M659.06 1113.26h17.0M659.06 1127.48h17.0" stroke="#5BC35B" stroke-width="2.0" fill="none" opacity="0.95"/>
<polyline points="136.57,1222.87 195.57,1222.70 254.57,1222.54 313.57,1221.90 372.57,1220.28 431.57,1217.05 490.57,1202.50 549.57,1160.46 608.56,1127.81 667.56,1113.58" fill="none" stroke="#3EA83E" stroke-width="3.6" stroke-linejoin="round"/>
<path d="M136.57 1221.90V1223.84" stroke="#3EA83E" stroke-width="4.8" fill="none" opacity="0.95"/><path d="M128.07 1221.90h17.0M128.07 1223.84h17.0" stroke="#3EA83E" stroke-width="2.0" fill="none" opacity="0.95"/>
<path d="M195.57 1221.73V1223.67" stroke="#3EA83E" stroke-width="4.8" fill="none" opacity="0.95"/><path d="M187.07 1221.73h17.0M187.07 1223.67h17.0" stroke="#3EA83E" stroke-width="2.0" fill="none" opacity="0.95"/>
<path d="M254.57 1221.57V1223.51" stroke="#3EA83E" stroke-width="4.8" fill="none" opacity="0.95"/><path d="M246.07 1221.57h17.0M246.07 1223.51h17.0" stroke="#3EA83E" stroke-width="2.0" fill="none" opacity="0.95"/>
<path d="M313.57 1220.60V1223.19" stroke="#3EA83E" stroke-width="4.8" fill="none" opacity="0.95"/><path d="M305.07 1220.60h17.0M305.07 1223.19h17.0" stroke="#3EA83E" stroke-width="2.0" fill="none" opacity="0.95"/>
<path d="M372.57 1218.66V1221.90" stroke="#3EA83E" stroke-width="4.8" fill="none" opacity="0.95"/><path d="M364.07 1218.66h17.0M364.07 1221.90h17.0" stroke="#3EA83E" stroke-width="2.0" fill="none" opacity="0.95"/>
<path d="M431.57 1214.46V1219.63" stroke="#3EA83E" stroke-width="4.8" fill="none" opacity="0.95"/><path d="M423.07 1214.46h17.0M423.07 1219.63h17.0" stroke="#3EA83E" stroke-width="2.0" fill="none" opacity="0.95"/>
<path d="M490.57 1198.62V1206.38" stroke="#3EA83E" stroke-width="4.8" fill="none" opacity="0.95"/><path d="M482.07 1198.62h17.0M482.07 1206.38h17.0" stroke="#3EA83E" stroke-width="2.0" fill="none" opacity="0.95"/>
<path d="M549.57 1153.35V1167.58" stroke="#3EA83E" stroke-width="4.8" fill="none" opacity="0.95"/><path d="M541.07 1153.35h17.0M541.07 1167.58h17.0" stroke="#3EA83E" stroke-width="2.0" fill="none" opacity="0.95"/>
<path d="M608.56 1121.34V1134.27" stroke="#3EA83E" stroke-width="4.8" fill="none" opacity="0.95"/><path d="M600.06 1121.34h17.0M600.06 1134.27h17.0" stroke="#3EA83E" stroke-width="2.0" fill="none" opacity="0.95"/>
<path d="M667.56 1104.53V1122.63" stroke="#3EA83E" stroke-width="4.8" fill="none" opacity="0.95"/><path d="M659.06 1104.53h17.0M659.06 1122.63h17.0" stroke="#3EA83E" stroke-width="2.0" fill="none" opacity="0.95"/>
<circle cx="136.57" cy="1222.54" r="6.00" fill="#92F592" stroke="#000" stroke-width="1.6" stroke-linejoin="miter"/>
<circle cx="195.57" cy="1222.54" r="6.00" fill="#92F592" stroke="#000" stroke-width="1.6" stroke-linejoin="miter"/>
<circle cx="254.57" cy="1222.22" r="6.00" fill="#92F592" stroke="#000" stroke-width="1.6" stroke-linejoin="miter"/>
<circle cx="313.57" cy="1221.25" r="6.00" fill="#92F592" stroke="#000" stroke-width="1.6" stroke-linejoin="miter"/>
<circle cx="372.57" cy="1216.56" r="6.00" fill="#92F592" stroke="#000" stroke-width="1.6" stroke-linejoin="miter"/>
<circle cx="431.57" cy="1207.02" r="6.00" fill="#92F592" stroke="#000" stroke-width="1.6" stroke-linejoin="miter"/>
<circle cx="490.57" cy="1187.95" r="6.00" fill="#92F592" stroke="#000" stroke-width="1.6" stroke-linejoin="miter"/>
<circle cx="549.57" cy="1134.92" r="6.00" fill="#92F592" stroke="#000" stroke-width="1.6" stroke-linejoin="miter"/>
<circle cx="608.56" cy="1119.40" r="6.00" fill="#92F592" stroke="#000" stroke-width="1.6" stroke-linejoin="miter"/>
<circle cx="667.56" cy="1121.15" r="6.00" fill="#92F592" stroke="#000" stroke-width="1.6" stroke-linejoin="miter"/>
<path d="M136.57 1216.54L142.57 1228.54L130.57 1228.54Z" fill="#78E078" stroke="#000" stroke-width="1.6" stroke-linejoin="miter"/>
<path d="M195.57 1216.54L201.57 1228.54L189.57 1228.54Z" fill="#78E078" stroke="#000" stroke-width="1.6" stroke-linejoin="miter"/>
<path d="M254.57 1216.22L260.57 1228.22L248.57 1228.22Z" fill="#78E078" stroke="#000" stroke-width="1.6" stroke-linejoin="miter"/>
<path d="M313.57 1215.57L319.57 1227.57L307.57 1227.57Z" fill="#78E078" stroke="#000" stroke-width="1.6" stroke-linejoin="miter"/>
<path d="M372.57 1212.99L378.57 1224.99L366.57 1224.99Z" fill="#78E078" stroke="#000" stroke-width="1.6" stroke-linejoin="miter"/>
<path d="M431.57 1207.17L437.57 1219.17L425.57 1219.17Z" fill="#78E078" stroke="#000" stroke-width="1.6" stroke-linejoin="miter"/>
<path d="M490.57 1187.77L496.57 1199.77L484.57 1199.77Z" fill="#78E078" stroke="#000" stroke-width="1.6" stroke-linejoin="miter"/>
<path d="M549.57 1146.38L555.57 1158.38L543.57 1158.38Z" fill="#78E078" stroke="#000" stroke-width="1.6" stroke-linejoin="miter"/>
<path d="M608.56 1117.60L614.56 1129.60L602.56 1129.60Z" fill="#78E078" stroke="#000" stroke-width="1.6" stroke-linejoin="miter"/>
<path d="M667.56 1111.78L673.56 1123.78L661.56 1123.78Z" fill="#78E078" stroke="#000" stroke-width="1.6" stroke-linejoin="miter"/>
<rect x="130.93" y="1217.06" width="11.28" height="11.28" fill="#5BC35B" stroke="#000" stroke-width="1.6" stroke-linejoin="miter"/>
<rect x="189.93" y="1216.90" width="11.28" height="11.28" fill="#5BC35B" stroke="#000" stroke-width="1.6" stroke-linejoin="miter"/>
<rect x="248.93" y="1216.74" width="11.28" height="11.28" fill="#5BC35B" stroke="#000" stroke-width="1.6" stroke-linejoin="miter"/>
<rect x="307.93" y="1216.26" width="11.28" height="11.28" fill="#5BC35B" stroke="#000" stroke-width="1.6" stroke-linejoin="miter"/>
<rect x="366.93" y="1214.32" width="11.28" height="11.28" fill="#5BC35B" stroke="#000" stroke-width="1.6" stroke-linejoin="miter"/>
<rect x="425.93" y="1209.14" width="11.28" height="11.28" fill="#5BC35B" stroke="#000" stroke-width="1.6" stroke-linejoin="miter"/>
<rect x="484.93" y="1191.04" width="11.28" height="11.28" fill="#5BC35B" stroke="#000" stroke-width="1.6" stroke-linejoin="miter"/>
<rect x="543.93" y="1153.85" width="11.28" height="11.28" fill="#5BC35B" stroke="#000" stroke-width="1.6" stroke-linejoin="miter"/>
<rect x="602.92" y="1121.84" width="11.28" height="11.28" fill="#5BC35B" stroke="#000" stroke-width="1.6" stroke-linejoin="miter"/>
<rect x="661.92" y="1114.73" width="11.28" height="11.28" fill="#5BC35B" stroke="#000" stroke-width="1.6" stroke-linejoin="miter"/>
<path d="M136.57 1214.59L140.89 1222.87L136.57 1231.15L132.25 1222.87Z" fill="#3EA83E" stroke="#000" stroke-width="1.6" stroke-linejoin="miter"/>
<path d="M195.57 1214.42L199.89 1222.70L195.57 1230.98L191.25 1222.70Z" fill="#3EA83E" stroke="#000" stroke-width="1.6" stroke-linejoin="miter"/>
<path d="M254.57 1214.26L258.89 1222.54L254.57 1230.82L250.25 1222.54Z" fill="#3EA83E" stroke="#000" stroke-width="1.6" stroke-linejoin="miter"/>
<path d="M313.57 1213.62L317.89 1221.90L313.57 1230.18L309.25 1221.90Z" fill="#3EA83E" stroke="#000" stroke-width="1.6" stroke-linejoin="miter"/>
<path d="M372.57 1212.00L376.89 1220.28L372.57 1228.56L368.25 1220.28Z" fill="#3EA83E" stroke="#000" stroke-width="1.6" stroke-linejoin="miter"/>
<path d="M431.57 1208.77L435.89 1217.05L431.57 1225.33L427.25 1217.05Z" fill="#3EA83E" stroke="#000" stroke-width="1.6" stroke-linejoin="miter"/>
<path d="M490.57 1194.22L494.89 1202.50L490.57 1210.78L486.25 1202.50Z" fill="#3EA83E" stroke="#000" stroke-width="1.6" stroke-linejoin="miter"/>
<path d="M549.57 1152.18L553.89 1160.46L549.57 1168.74L545.25 1160.46Z" fill="#3EA83E" stroke="#000" stroke-width="1.6" stroke-linejoin="miter"/>
<path d="M608.56 1119.53L612.88 1127.81L608.56 1136.09L604.24 1127.81Z" fill="#3EA83E" stroke="#000" stroke-width="1.6" stroke-linejoin="miter"/>
<path d="M667.56 1105.30L671.88 1113.58L667.56 1121.86L663.24 1113.58Z" fill="#3EA83E" stroke="#000" stroke-width="1.6" stroke-linejoin="miter"/>
</g>
<rect x="114.9" y="896.3" width="563.50" height="329.8" fill="none" stroke="#111" stroke-width="1.5"/>
<text transform="translate(125.74 1264.30) scale(1.08 1)" font-size="29.0" text-anchor="middle">0</text>
<text transform="translate(234.10 1264.30) scale(1.08 1)" font-size="29.0" text-anchor="middle">0.1</text>
<text transform="translate(342.47 1264.30) scale(1.08 1)" font-size="29.0" text-anchor="middle">0.2</text>
<text transform="translate(450.83 1264.30) scale(1.08 1)" font-size="29.0" text-anchor="middle">0.3</text>
<text transform="translate(559.20 1264.30) scale(1.08 1)" font-size="29.0" text-anchor="middle">0.4</text>
<text transform="translate(667.56 1264.30) scale(1.08 1)" font-size="29.0" text-anchor="middle">0.5</text>
<text transform="translate(98.00 1232.67) scale(1.08 1)" font-size="29.0" text-anchor="end">0</text>
<text transform="translate(98.00 1151.83) scale(1.08 1)" font-size="29.0" text-anchor="end">0.25</text>
<text transform="translate(98.00 1071.00) scale(1.08 1)" font-size="29.0" text-anchor="end">0.5</text>
<text transform="translate(98.00 990.17) scale(1.08 1)" font-size="29.0" text-anchor="end">0.75</text>
<text transform="translate(98.00 909.33) scale(1.08 1)" font-size="29.0" text-anchor="end">1</text>
<text x="2.00" y="896.30" font-size="34">(c)</text>
<text x="285.00" y="877.80" font-size="30.0" textLength="137.7" lengthAdjust="spacing">contiguous,</text>
<text transform="translate(433.50 877.80) scale(1.18 1)" font-size="30.0" font-style="italic">K</text>
<text transform="translate(463.00 880.80) scale(1.45 1)" font-size="30.0">=</text>
<text x="493.00" y="877.80" font-size="30.0">4</text>
</g>
<path d="M140 505.20H204.3" stroke="#92F592" stroke-width="3.6" fill="none"/>
<path d="M172.50 490.10V520.30" stroke="#92F592" stroke-width="4.8" fill="none" opacity="0.95"/><path d="M164.00 490.10h17.0M164.00 520.30h17.0" stroke="#92F592" stroke-width="2.0" fill="none" opacity="0.95"/>
<circle cx="172.50" cy="505.20" r="6.00" fill="#92F592" stroke="#000" stroke-width="1.6" stroke-linejoin="miter"/>
<text transform="translate(225.5 514.20) scale(1.2 1)" font-size="25.5" font-style="italic" style="font-family:&quot;DejaVu Serif&quot;,&quot;Liberation Serif&quot;,serif">γ</text>
<text transform="translate(248.20 517.20) scale(1.42 1)" font-size="30.0">=</text>
<text x="277.20" y="514.20" font-size="30.0">0.2</text>
<path d="M140 548.90H204.3" stroke="#78E078" stroke-width="3.6" fill="none"/>
<path d="M172.50 533.80V564.00" stroke="#78E078" stroke-width="4.8" fill="none" opacity="0.95"/><path d="M164.00 533.80h17.0M164.00 564.00h17.0" stroke="#78E078" stroke-width="2.0" fill="none" opacity="0.95"/>
<path d="M172.50 542.90L178.50 554.90L166.50 554.90Z" fill="#78E078" stroke="#000" stroke-width="1.6" stroke-linejoin="miter"/>
<text transform="translate(225.5 557.90) scale(1.2 1)" font-size="25.5" font-style="italic" style="font-family:&quot;DejaVu Serif&quot;,&quot;Liberation Serif&quot;,serif">γ</text>
<text transform="translate(248.20 560.90) scale(1.42 1)" font-size="30.0">=</text>
<text x="277.20" y="557.90" font-size="30.0">0.3</text>
<path d="M140 592.60H204.3" stroke="#5BC35B" stroke-width="3.6" fill="none"/>
<path d="M172.50 577.50V607.70" stroke="#5BC35B" stroke-width="4.8" fill="none" opacity="0.95"/><path d="M164.00 577.50h17.0M164.00 607.70h17.0" stroke="#5BC35B" stroke-width="2.0" fill="none" opacity="0.95"/>
<rect x="166.86" y="586.96" width="11.28" height="11.28" fill="#5BC35B" stroke="#000" stroke-width="1.6" stroke-linejoin="miter"/>
<text transform="translate(225.5 601.60) scale(1.2 1)" font-size="25.5" font-style="italic" style="font-family:&quot;DejaVu Serif&quot;,&quot;Liberation Serif&quot;,serif">γ</text>
<text transform="translate(248.20 604.60) scale(1.42 1)" font-size="30.0">=</text>
<text x="277.20" y="601.60" font-size="30.0">0.4</text>
<path d="M140 636.30H204.3" stroke="#3EA83E" stroke-width="3.6" fill="none"/>
<path d="M172.50 621.20V651.40" stroke="#3EA83E" stroke-width="4.8" fill="none" opacity="0.95"/><path d="M164.00 621.20h17.0M164.00 651.40h17.0" stroke="#3EA83E" stroke-width="2.0" fill="none" opacity="0.95"/>
<path d="M172.50 628.02L176.82 636.30L172.50 644.58L168.18 636.30Z" fill="#3EA83E" stroke="#000" stroke-width="1.6" stroke-linejoin="miter"/>
<text transform="translate(225.5 645.30) scale(1.2 1)" font-size="25.5" font-style="italic" style="font-family:&quot;DejaVu Serif&quot;,&quot;Liberation Serif&quot;,serif">γ</text>
<text transform="translate(248.20 648.30) scale(1.42 1)" font-size="30.0">=</text>
<text x="277.20" y="645.30" font-size="30.0">0.5</text>
<text x="302.80" y="1315.80" font-size="30.0" textLength="187.4" lengthAdjust="spacing">Flip probability</text>
<text transform="translate(21 737.8) rotate(-90)" font-size="30.0" textLength="211.3" lengthAdjust="spacing">Partition distance</text>
</svg>
</body></html>
